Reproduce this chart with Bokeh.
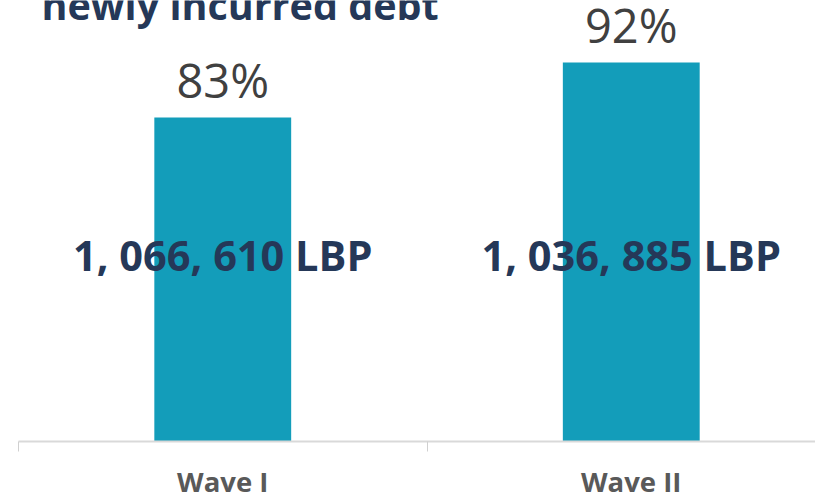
from bokeh.plotting import figure
from bokeh.models import Range1d, FixedTicker, ColumnDataSource, Label, LabelSet
from bokeh.core.properties import value
from bokeh.embed import file_html
from bokeh.resources import INLINE

# ---- data ----
categories = ["Wave I", "Wave II"]
shares = [83, 92]
share_labels = ["83%", "92%"]
amount_labels = ["1, 066, 610 LBP", "1, 036, 885 LBP"]
title_text = "newly incurred debt"

base = 30
x_pos = [i + 0.5 for i in range(len(categories))]
src = ColumnDataSource(dict(x=x_pos, top=shares, pct=share_labels,
                            amt=amount_labels, mid=[60.5] * len(categories)))

p = figure(frame_width=797, frame_height=441, output_backend="svg",
           toolbar_location=None,
           x_range=Range1d(0, 1.951), y_range=Range1d(base, 102.14),
           y_axis_location=None, min_border_left=18, min_border_right=0,
           min_border_top=0, min_border_bottom=0)
p.outline_line_color = None
p.xgrid.visible = False
p.ygrid.visible = False
p.background_fill_color = "white"
p.border_fill_color = "white"

p.vbar(x="x", top="top", bottom=base, width=0.335, source=src,
       fill_color="#139DBA", line_color=None)

p.add_layout(LabelSet(x="x", y="top", text="pct", source=src, text_align="center",
                      text_baseline="alphabetic", y_offset=20,
                      text_font=value("Open Sans"), text_font_size=value("47px"),
                      text_color=value("#404040")))

p.add_layout(LabelSet(x="x", y="mid", text="amt", source=src, text_align="center",
                      text_baseline="middle", text_font=value("Open Sans"),
                      text_font_style=value("bold"), text_font_size=value("41.5px"),
                      text_color=value("#253858")))

ax = p.xaxis[0]
ax.ticker = FixedTicker(ticks=x_pos, minor_ticks=list(range(len(categories) + 1)))
ax.major_label_overrides = {x: c for x, c in zip(x_pos, categories)}
ax.major_tick_in = 0
ax.major_tick_out = 0
ax.minor_tick_in = 0
ax.minor_tick_out = 10
ax.minor_tick_line_color = "#d0d0d0"
ax.axis_line_color = "#d9d9d9"
ax.axis_line_width = 2
ax.major_label_text_font = "Open Sans"
ax.major_label_text_font_style = "bold"
ax.major_label_text_font_size = "27.5px"
ax.major_label_text_color = "#595959"
ax.major_label_standoff = 11

p.add_layout(Label(x=23, y=437, x_units="screen", y_units="screen",
                   text=title_text, text_font="Open Sans", text_font_style="bold",
                   text_font_size="39.5px", text_color="#253858",
                   text_baseline="alphabetic"))

open("out.html", "w").write(file_html(p, INLINE))
